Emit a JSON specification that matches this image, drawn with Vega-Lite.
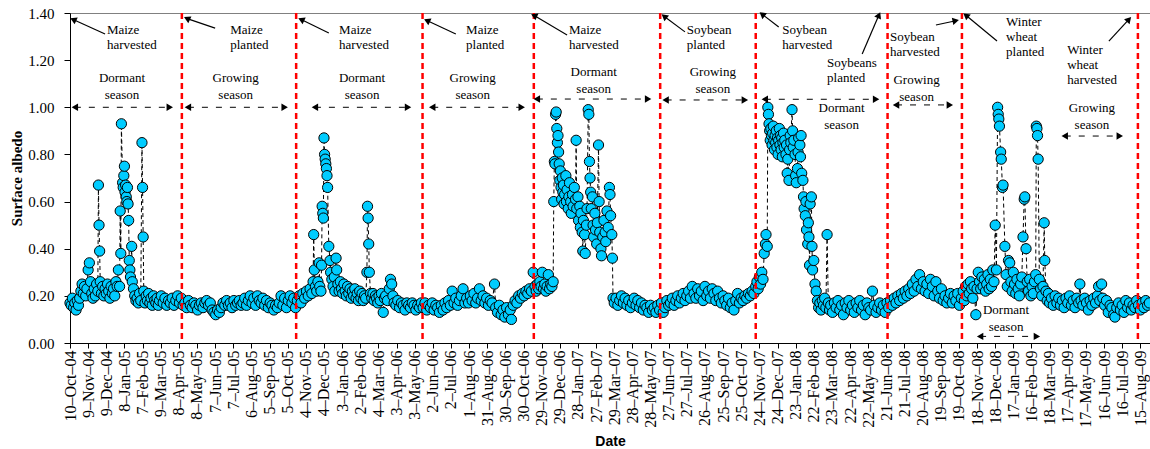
{
"$schema": "https://vega.github.io/schema/vega-lite/v6.json",
"width": 1080, "height": 330,
"autosize": {"type": "none"},
"padding": {"left": 70, "top": 13, "right": 0, "bottom": 106},
"background": "white",
"config": {"view": {"stroke": "#808080", "strokeWidth": 1},
 "axis": {"domainWidth": 1, "tickWidth": 1, "grid": false, "domainColor": "black", "tickColor": "black", "labelColor": "black", "titleColor": "black"},
 "axisX": {"tickCount": 100, "labelOverlap": false, "labelFlush": false, "labelSeparation": 0, "labelAngle": -90, "labelFont": "Liberation Serif", "labelFontSize": 16, "labelPadding": 2, "tickSize": 5, "titleFont": "Liberation Sans", "titleFontSize": 14, "titleFontWeight": "bold", "titlePadding": 7},
 "axisY": {"tickCount": 20, "labelOverlap": false, "labelFont": "Liberation Serif", "labelFontSize": 15, "labelPadding": 10, "tickSize": 6, "titleFont": "Liberation Serif", "titleFontSize": 15, "titleFontWeight": "bold", "titlePadding": 3}},
"datasets": {
"albedo": [
{"d":"2004-10-10","a":0.17},{"d":"2004-10-12","a":0.16},{"d":"2004-10-14","a":0.19},{"d":"2004-10-16","a":0.15},{"d":"2004-10-18","a":0.17},{"d":"2004-10-20","a":0.14},{"d":"2004-10-22","a":0.18},{"d":"2004-10-24","a":0.16},{"d":"2004-10-26","a":0.19},{"d":"2004-10-28","a":0.22},{"d":"2004-10-30","a":0.25},{"d":"2004-11-01","a":0.21},{"d":"2004-11-03","a":0.24},{"d":"2004-11-05","a":0.20},{"d":"2004-11-07","a":0.23},{"d":"2004-11-09","a":0.31},{"d":"2004-11-11","a":0.34},{"d":"2004-11-13","a":0.26},{"d":"2004-11-15","a":0.21},{"d":"2004-11-17","a":0.19},{"d":"2004-11-19","a":0.23},{"d":"2004-11-21","a":0.20},{"d":"2004-11-23","a":0.25},{"d":"2004-11-25","a":0.22},{"d":"2004-11-26","a":0.67},{"d":"2004-11-27","a":0.50},{"d":"2004-11-28","a":0.39},{"d":"2004-11-29","a":0.26},{"d":"2004-12-01","a":0.21},{"d":"2004-12-03","a":0.24},{"d":"2004-12-05","a":0.20},{"d":"2004-12-07","a":0.23},{"d":"2004-12-09","a":0.21},{"d":"2004-12-11","a":0.25},{"d":"2004-12-13","a":0.22},{"d":"2004-12-15","a":0.19},{"d":"2004-12-17","a":0.24},{"d":"2004-12-19","a":0.21},{"d":"2004-12-21","a":0.23},{"d":"2004-12-23","a":0.20},{"d":"2004-12-25","a":0.26},{"d":"2004-12-27","a":0.24},{"d":"2004-12-29","a":0.31},{"d":"2004-12-31","a":0.24},{"d":"2005-01-01","a":0.56},{"d":"2005-01-02","a":0.38},{"d":"2005-01-03","a":0.93},{"d":"2005-01-05","a":0.68},{"d":"2005-01-06","a":0.66},{"d":"2005-01-07","a":0.71},{"d":"2005-01-08","a":0.75},{"d":"2005-01-09","a":0.64},{"d":"2005-01-10","a":0.67},{"d":"2005-01-11","a":0.62},{"d":"2005-01-12","a":0.60},{"d":"2005-01-13","a":0.66},{"d":"2005-01-14","a":0.59},{"d":"2005-01-15","a":0.52},{"d":"2005-01-16","a":0.35},{"d":"2005-01-17","a":0.31},{"d":"2005-01-18","a":0.28},{"d":"2005-01-20","a":0.41},{"d":"2005-01-21","a":0.26},{"d":"2005-01-23","a":0.23},{"d":"2005-01-25","a":0.20},{"d":"2005-01-27","a":0.18},{"d":"2005-01-29","a":0.19},{"d":"2005-01-31","a":0.17},{"d":"2005-02-02","a":0.21},{"d":"2005-02-04","a":0.18},{"d":"2005-02-06","a":0.85},{"d":"2005-02-07","a":0.66},{"d":"2005-02-08","a":0.45},{"d":"2005-02-09","a":0.22},{"d":"2005-02-11","a":0.17},{"d":"2005-02-13","a":0.20},{"d":"2005-02-15","a":0.18},{"d":"2005-02-17","a":0.21},{"d":"2005-02-19","a":0.17},{"d":"2005-02-21","a":0.19},{"d":"2005-02-23","a":0.16},{"d":"2005-02-25","a":0.20},{"d":"2005-02-27","a":0.18},{"d":"2005-03-01","a":0.17},{"d":"2005-03-03","a":0.19},{"d":"2005-03-05","a":0.16},{"d":"2005-03-07","a":0.18},{"d":"2005-03-10","a":0.20},{"d":"2005-03-13","a":0.17},{"d":"2005-03-16","a":0.19},{"d":"2005-03-19","a":0.16},{"d":"2005-03-22","a":0.18},{"d":"2005-03-25","a":0.17},{"d":"2005-03-28","a":0.19},{"d":"2005-03-31","a":0.16},{"d":"2005-04-03","a":0.18},{"d":"2005-04-06","a":0.20},{"d":"2005-04-09","a":0.17},{"d":"2005-04-12","a":0.19},{"d":"2005-04-15","a":0.16},
{"d":"2005-04-18","a":0.17},{"d":"2005-04-21","a":0.15},{"d":"2005-04-24","a":0.18},{"d":"2005-04-27","a":0.16},{"d":"2005-04-30","a":0.15},{"d":"2005-05-03","a":0.17},{"d":"2005-05-06","a":0.16},{"d":"2005-05-09","a":0.14},{"d":"2005-05-12","a":0.16},{"d":"2005-05-15","a":0.17},{"d":"2005-05-18","a":0.15},{"d":"2005-05-21","a":0.17},{"d":"2005-05-24","a":0.18},{"d":"2005-05-27","a":0.16},{"d":"2005-05-30","a":0.17},{"d":"2005-06-02","a":0.14},{"d":"2005-06-05","a":0.13},{"d":"2005-06-08","a":0.12},{"d":"2005-06-11","a":0.14},{"d":"2005-06-14","a":0.13},{"d":"2005-06-17","a":0.15},{"d":"2005-06-20","a":0.17},{"d":"2005-06-23","a":0.16},{"d":"2005-06-26","a":0.18},{"d":"2005-06-29","a":0.16},{"d":"2005-07-02","a":0.17},{"d":"2005-07-05","a":0.15},{"d":"2005-07-08","a":0.18},{"d":"2005-07-11","a":0.16},{"d":"2005-07-14","a":0.17},{"d":"2005-07-17","a":0.18},{"d":"2005-07-20","a":0.16},{"d":"2005-07-23","a":0.17},{"d":"2005-07-26","a":0.19},{"d":"2005-07-29","a":0.16},{"d":"2005-08-01","a":0.18},{"d":"2005-08-04","a":0.20},{"d":"2005-08-07","a":0.17},{"d":"2005-08-10","a":0.19},{"d":"2005-08-13","a":0.16},{"d":"2005-08-16","a":0.20},{"d":"2005-08-19","a":0.18},{"d":"2005-08-22","a":0.17},{"d":"2005-08-25","a":0.19},{"d":"2005-08-28","a":0.16},{"d":"2005-08-31","a":0.18},{"d":"2005-09-03","a":0.15},{"d":"2005-09-06","a":0.17},{"d":"2005-09-09","a":0.16},{"d":"2005-09-12","a":0.14},{"d":"2005-09-15","a":0.16},{"d":"2005-09-18","a":0.15},{"d":"2005-09-21","a":0.17},{"d":"2005-09-24","a":0.20},{"d":"2005-09-27","a":0.16},{"d":"2005-09-30","a":0.19},{"d":"2005-10-03","a":0.15},{"d":"2005-10-06","a":0.18},{"d":"2005-10-09","a":0.20},{"d":"2005-10-12","a":0.17},{"d":"2005-10-15","a":0.19},{"d":"2005-10-18","a":0.15},
{"d":"2005-10-21","a":0.18},{"d":"2005-10-24","a":0.20},{"d":"2005-10-27","a":0.17},{"d":"2005-10-30","a":0.21},{"d":"2005-11-02","a":0.19},{"d":"2005-11-05","a":0.22},{"d":"2005-11-08","a":0.20},{"d":"2005-11-11","a":0.23},{"d":"2005-11-14","a":0.21},{"d":"2005-11-16","a":0.26},{"d":"2005-11-17","a":0.46},{"d":"2005-11-18","a":0.31},{"d":"2005-11-20","a":0.24},{"d":"2005-11-22","a":0.22},{"d":"2005-11-24","a":0.26},{"d":"2005-11-26","a":0.34},{"d":"2005-11-27","a":0.24},{"d":"2005-11-29","a":0.22},{"d":"2005-11-30","a":0.33},{"d":"2005-12-01","a":0.58},{"d":"2005-12-02","a":0.55},{"d":"2005-12-03","a":0.53},{"d":"2005-12-04","a":0.87},{"d":"2005-12-05","a":0.80},{"d":"2005-12-06","a":0.78},{"d":"2005-12-07","a":0.76},{"d":"2005-12-08","a":0.74},{"d":"2005-12-09","a":0.71},{"d":"2005-12-10","a":0.66},{"d":"2005-12-12","a":0.41},{"d":"2005-12-14","a":0.35},{"d":"2005-12-15","a":0.30},{"d":"2005-12-17","a":0.27},{"d":"2005-12-19","a":0.24},{"d":"2005-12-21","a":0.28},{"d":"2005-12-22","a":0.22},{"d":"2005-12-24","a":0.36},{"d":"2005-12-25","a":0.31},{"d":"2005-12-27","a":0.25},{"d":"2005-12-29","a":0.22},{"d":"2005-12-31","a":0.26},{"d":"2006-01-02","a":0.23},{"d":"2006-01-04","a":0.21},{"d":"2006-01-06","a":0.25},{"d":"2006-01-08","a":0.22},{"d":"2006-01-10","a":0.20},{"d":"2006-01-12","a":0.24},{"d":"2006-01-14","a":0.21},{"d":"2006-01-16","a":0.23},{"d":"2006-01-18","a":0.19},{"d":"2006-01-20","a":0.22},{"d":"2006-01-22","a":0.20},{"d":"2006-01-24","a":0.23},{"d":"2006-01-26","a":0.19},{"d":"2006-01-28","a":0.21},{"d":"2006-01-30","a":0.18},{"d":"2006-02-01","a":0.22},{"d":"2006-02-03","a":0.19},{"d":"2006-02-05","a":0.21},{"d":"2006-02-07","a":0.18},{"d":"2006-02-09","a":0.20},{"d":"2006-02-11","a":0.19},{"d":"2006-02-13","a":0.30},{"d":"2006-02-14","a":0.58},{"d":"2006-02-15","a":0.53},{"d":"2006-02-16","a":0.42},{"d":"2006-02-17","a":0.30},{"d":"2006-02-19","a":0.21},{"d":"2006-02-21","a":0.19},{"d":"2006-02-23","a":0.21},{"d":"2006-02-25","a":0.18},{"d":"2006-02-27","a":0.20},{"d":"2006-03-01","a":0.19},{"d":"2006-03-03","a":0.17},{"d":"2006-03-05","a":0.20},{"d":"2006-03-07","a":0.18},{"d":"2006-03-09","a":0.21},{"d":"2006-03-12","a":0.13},{"d":"2006-03-14","a":0.19},{"d":"2006-03-16","a":0.20},{"d":"2006-03-19","a":0.18},{"d":"2006-03-22","a":0.23},{"d":"2006-03-24","a":0.27},{"d":"2006-03-26","a":0.25},{"d":"2006-03-28","a":0.20},{"d":"2006-03-30","a":0.17},{"d":"2006-04-02","a":0.16},{"d":"2006-04-05","a":0.18},{"d":"2006-04-08","a":0.15},{"d":"2006-04-11","a":0.17},{"d":"2006-04-14","a":0.16},{"d":"2006-04-17","a":0.14},{"d":"2006-04-20","a":0.17},{"d":"2006-04-23","a":0.16},{"d":"2006-04-26","a":0.15},{"d":"2006-04-29","a":0.17},{"d":"2006-05-02","a":0.16},{"d":"2006-05-05","a":0.14},{"d":"2006-05-08","a":0.16},{"d":"2006-05-11","a":0.15},{"d":"2006-05-14","a":0.17},
{"d":"2006-05-17","a":0.15},{"d":"2006-05-20","a":0.17},{"d":"2006-05-23","a":0.14},{"d":"2006-05-26","a":0.16},{"d":"2006-05-29","a":0.15},{"d":"2006-06-01","a":0.17},{"d":"2006-06-04","a":0.14},{"d":"2006-06-07","a":0.16},{"d":"2006-06-10","a":0.15},{"d":"2006-06-13","a":0.13},{"d":"2006-06-16","a":0.16},{"d":"2006-06-19","a":0.14},{"d":"2006-06-22","a":0.17},{"d":"2006-06-25","a":0.15},{"d":"2006-06-28","a":0.18},{"d":"2006-07-01","a":0.16},{"d":"2006-07-04","a":0.22},{"d":"2006-07-07","a":0.17},{"d":"2006-07-10","a":0.19},{"d":"2006-07-13","a":0.16},{"d":"2006-07-16","a":0.18},{"d":"2006-07-19","a":0.20},{"d":"2006-07-22","a":0.23},{"d":"2006-07-25","a":0.17},{"d":"2006-07-28","a":0.19},{"d":"2006-07-31","a":0.17},{"d":"2006-08-03","a":0.20},{"d":"2006-08-06","a":0.18},{"d":"2006-08-09","a":0.21},{"d":"2006-08-12","a":0.17},{"d":"2006-08-15","a":0.19},{"d":"2006-08-18","a":0.23},{"d":"2006-08-21","a":0.18},{"d":"2006-08-24","a":0.20},{"d":"2006-08-27","a":0.17},{"d":"2006-08-30","a":0.19},{"d":"2006-09-02","a":0.16},{"d":"2006-09-05","a":0.18},{"d":"2006-09-08","a":0.17},{"d":"2006-09-12","a":0.25},{"d":"2006-09-14","a":0.15},{"d":"2006-09-17","a":0.13},{"d":"2006-09-20","a":0.16},{"d":"2006-09-23","a":0.12},{"d":"2006-09-26","a":0.14},{"d":"2006-09-29","a":0.11},{"d":"2006-10-02","a":0.15},{"d":"2006-10-05","a":0.12},{"d":"2006-10-08","a":0.14},{"d":"2006-10-10","a":0.10},{"d":"2006-10-13","a":0.16},{"d":"2006-10-16","a":0.18},{"d":"2006-10-19","a":0.17},{"d":"2006-10-22","a":0.20},{"d":"2006-10-25","a":0.19},{"d":"2006-10-28","a":0.21},{"d":"2006-10-31","a":0.20},{"d":"2006-11-03","a":0.22},{"d":"2006-11-06","a":0.21},{"d":"2006-11-09","a":0.23},{"d":"2006-11-12","a":0.22},{"d":"2006-11-15","a":0.30},{"d":"2006-11-18","a":0.24},
{"d":"2006-11-20","a":0.22},{"d":"2006-11-22","a":0.25},{"d":"2006-11-24","a":0.23},{"d":"2006-11-26","a":0.26},{"d":"2006-11-28","a":0.24},{"d":"2006-11-30","a":0.30},{"d":"2006-12-02","a":0.23},{"d":"2006-12-04","a":0.25},{"d":"2006-12-06","a":0.22},{"d":"2006-12-08","a":0.24},{"d":"2006-12-10","a":0.29},{"d":"2006-12-12","a":0.23},{"d":"2006-12-14","a":0.25},{"d":"2006-12-16","a":0.24},{"d":"2006-12-18","a":0.26},{"d":"2006-12-19","a":0.60},{"d":"2006-12-20","a":0.77},{"d":"2006-12-21","a":0.76},{"d":"2006-12-22","a":0.97},{"d":"2006-12-23","a":0.98},{"d":"2006-12-24","a":0.91},{"d":"2006-12-25","a":0.85},{"d":"2006-12-26","a":0.88},{"d":"2006-12-27","a":0.81},{"d":"2006-12-28","a":0.76},{"d":"2006-12-29","a":0.69},{"d":"2006-12-30","a":0.73},{"d":"2006-12-31","a":0.66},{"d":"2007-01-01","a":0.61},{"d":"2007-01-02","a":0.70},{"d":"2007-01-03","a":0.64},{"d":"2007-01-04","a":0.67},{"d":"2007-01-05","a":0.59},{"d":"2007-01-06","a":0.63},{"d":"2007-01-08","a":0.71},{"d":"2007-01-09","a":0.60},{"d":"2007-01-10","a":0.65},{"d":"2007-01-12","a":0.57},{"d":"2007-01-13","a":0.62},{"d":"2007-01-14","a":0.68},{"d":"2007-01-16","a":0.60},{"d":"2007-01-17","a":0.55},{"d":"2007-01-19","a":0.63},{"d":"2007-01-20","a":0.58},{"d":"2007-01-22","a":0.66},{"d":"2007-01-24","a":0.61},{"d":"2007-01-25","a":0.86},{"d":"2007-01-26","a":0.57},{"d":"2007-01-28","a":0.62},{"d":"2007-01-29","a":0.52},{"d":"2007-01-31","a":0.58},{"d":"2007-02-01","a":0.49},{"d":"2007-02-02","a":0.55},{"d":"2007-02-04","a":0.47},{"d":"2007-02-05","a":0.39},{"d":"2007-02-06","a":0.52},{"d":"2007-02-08","a":0.46},{"d":"2007-02-09","a":0.38},{"d":"2007-02-11","a":0.50},{"d":"2007-02-12","a":0.57},{"d":"2007-02-14","a":0.99},{"d":"2007-02-15","a":0.97},{"d":"2007-02-16","a":0.77},{"d":"2007-02-17","a":0.70},{"d":"2007-02-18","a":0.64},{"d":"2007-02-19","a":0.57},{"d":"2007-02-21","a":0.62},{"d":"2007-02-22","a":0.50},{"d":"2007-02-23","a":0.45},{"d":"2007-02-25","a":0.55},{"d":"2007-02-26","a":0.48},{"d":"2007-02-28","a":0.42},{"d":"2007-03-01","a":0.51},{"d":"2007-03-03","a":0.84},{"d":"2007-03-04","a":0.60},{"d":"2007-03-05","a":0.47},{"d":"2007-03-07","a":0.40},{"d":"2007-03-08","a":0.37},{"d":"2007-03-10","a":0.45},{"d":"2007-03-12","a":0.52},{"d":"2007-03-14","a":0.47},{"d":"2007-03-15","a":0.43},{"d":"2007-03-17","a":0.56},{"d":"2007-03-19","a":0.49},{"d":"2007-03-21","a":0.66},{"d":"2007-03-22","a":0.63},{"d":"2007-03-23","a":0.54},{"d":"2007-03-25","a":0.46},{"d":"2007-03-26","a":0.36},{"d":"2007-03-27","a":0.19},
{"d":"2007-03-29","a":0.17},{"d":"2007-04-01","a":0.19},{"d":"2007-04-04","a":0.16},{"d":"2007-04-07","a":0.18},{"d":"2007-04-10","a":0.20},{"d":"2007-04-13","a":0.17},{"d":"2007-04-16","a":0.19},{"d":"2007-04-19","a":0.16},{"d":"2007-04-22","a":0.18},{"d":"2007-04-25","a":0.15},{"d":"2007-04-28","a":0.17},{"d":"2007-05-01","a":0.19},{"d":"2007-05-04","a":0.16},{"d":"2007-05-07","a":0.18},{"d":"2007-05-10","a":0.15},{"d":"2007-05-13","a":0.17},{"d":"2007-05-16","a":0.14},{"d":"2007-05-19","a":0.16},{"d":"2007-05-22","a":0.15},{"d":"2007-05-25","a":0.13},{"d":"2007-05-28","a":0.16},{"d":"2007-05-31","a":0.14},{"d":"2007-06-03","a":0.15},{"d":"2007-06-06","a":0.13},{"d":"2007-06-09","a":0.16},{"d":"2007-06-12","a":0.14},{"d":"2007-06-15","a":0.17},{"d":"2007-06-18","a":0.13},{"d":"2007-06-21","a":0.15},{"d":"2007-06-24","a":0.18},{"d":"2007-06-27","a":0.16},{"d":"2007-06-30","a":0.17},{"d":"2007-07-03","a":0.19},{"d":"2007-07-06","a":0.16},{"d":"2007-07-09","a":0.18},{"d":"2007-07-12","a":0.20},{"d":"2007-07-15","a":0.17},{"d":"2007-07-18","a":0.19},{"d":"2007-07-21","a":0.21},{"d":"2007-07-24","a":0.18},{"d":"2007-07-27","a":0.20},{"d":"2007-07-30","a":0.22},{"d":"2007-08-02","a":0.19},{"d":"2007-08-05","a":0.24},{"d":"2007-08-08","a":0.21},{"d":"2007-08-11","a":0.19},{"d":"2007-08-14","a":0.23},{"d":"2007-08-17","a":0.20},{"d":"2007-08-20","a":0.22},{"d":"2007-08-23","a":0.18},{"d":"2007-08-26","a":0.24},{"d":"2007-08-29","a":0.20},{"d":"2007-09-01","a":0.22},{"d":"2007-09-04","a":0.19},{"d":"2007-09-07","a":0.23},{"d":"2007-09-10","a":0.21},{"d":"2007-09-13","a":0.18},{"d":"2007-09-16","a":0.22},{"d":"2007-09-19","a":0.19},{"d":"2007-09-22","a":0.17},{"d":"2007-09-25","a":0.20},{"d":"2007-09-28","a":0.18},{"d":"2007-10-01","a":0.16},{"d":"2007-10-04","a":0.19},{"d":"2007-10-07","a":0.15},{"d":"2007-10-10","a":0.17},{"d":"2007-10-13","a":0.14},{"d":"2007-10-16","a":0.18},{"d":"2007-10-19","a":0.21},{"d":"2007-10-22","a":0.17},{"d":"2007-10-25","a":0.19},{"d":"2007-10-28","a":0.18},{"d":"2007-10-31","a":0.20},{"d":"2007-11-03","a":0.19},{"d":"2007-11-06","a":0.21},{"d":"2007-11-09","a":0.20},{"d":"2007-11-12","a":0.22},{"d":"2007-11-15","a":0.21},{"d":"2007-11-18","a":0.24},
{"d":"2007-11-20","a":0.26},{"d":"2007-11-22","a":0.23},{"d":"2007-11-24","a":0.28},{"d":"2007-11-26","a":0.25},{"d":"2007-11-28","a":0.30},{"d":"2007-11-30","a":0.27},{"d":"2007-12-02","a":0.38},{"d":"2007-12-04","a":0.42},{"d":"2007-12-05","a":0.46},{"d":"2007-12-07","a":0.41},{"d":"2007-12-08","a":1.00},{"d":"2007-12-09","a":0.97},{"d":"2007-12-10","a":0.93},{"d":"2007-12-11","a":0.90},{"d":"2007-12-12","a":0.86},{"d":"2007-12-13","a":0.91},{"d":"2007-12-14","a":0.88},{"d":"2007-12-15","a":0.84},{"d":"2007-12-16","a":0.89},{"d":"2007-12-17","a":0.92},{"d":"2007-12-18","a":0.86},{"d":"2007-12-19","a":0.82},{"d":"2007-12-20","a":0.88},{"d":"2007-12-21","a":0.85},{"d":"2007-12-22","a":0.90},{"d":"2007-12-23","a":0.83},{"d":"2007-12-24","a":0.87},{"d":"2007-12-25","a":0.80},{"d":"2007-12-26","a":0.86},{"d":"2007-12-27","a":0.91},{"d":"2007-12-28","a":0.84},{"d":"2007-12-29","a":0.88},{"d":"2007-12-30","a":0.82},{"d":"2007-12-31","a":0.87},{"d":"2008-01-01","a":0.79},{"d":"2008-01-02","a":0.85},{"d":"2008-01-03","a":0.89},{"d":"2008-01-04","a":0.83},{"d":"2008-01-05","a":0.86},{"d":"2008-01-07","a":0.80},{"d":"2008-01-08","a":0.84},{"d":"2008-01-09","a":0.72},{"d":"2008-01-10","a":0.78},{"d":"2008-01-12","a":0.69},{"d":"2008-01-13","a":0.82},{"d":"2008-01-14","a":0.88},{"d":"2008-01-15","a":0.85},{"d":"2008-01-17","a":0.99},{"d":"2008-01-18","a":0.90},{"d":"2008-01-19","a":0.83},{"d":"2008-01-20","a":0.86},{"d":"2008-01-22","a":0.80},{"d":"2008-01-23","a":0.71},{"d":"2008-01-24","a":0.68},{"d":"2008-01-26","a":0.74},{"d":"2008-01-27","a":0.81},{"d":"2008-01-28","a":0.87},{"d":"2008-01-30","a":0.84},{"d":"2008-01-31","a":0.79},{"d":"2008-02-01","a":0.88},{"d":"2008-02-02","a":0.72},{"d":"2008-02-04","a":0.69},{"d":"2008-02-05","a":0.62},{"d":"2008-02-06","a":0.57},{"d":"2008-02-08","a":0.54},{"d":"2008-02-09","a":0.60},{"d":"2008-02-10","a":0.48},{"d":"2008-02-12","a":0.42},{"d":"2008-02-13","a":0.51},{"d":"2008-02-14","a":0.45},{"d":"2008-02-15","a":0.33},{"d":"2008-02-16","a":0.59},{"d":"2008-02-18","a":0.62},{"d":"2008-02-19","a":0.41},{"d":"2008-02-20","a":0.31},{"d":"2008-02-22","a":0.35},{"d":"2008-02-24","a":0.25},{"d":"2008-02-26","a":0.22},{"d":"2008-02-28","a":0.18},{"d":"2008-03-01","a":0.15},{"d":"2008-03-03","a":0.17},{"d":"2008-03-05","a":0.14},{"d":"2008-03-07","a":0.18},{"d":"2008-03-09","a":0.16},{"d":"2008-03-11","a":0.19},{"d":"2008-03-13","a":0.15},{"d":"2008-03-15","a":0.46},{"d":"2008-03-17","a":0.17},{"d":"2008-03-19","a":0.14},{"d":"2008-03-21","a":0.16},{"d":"2008-03-24","a":0.13},{"d":"2008-03-27","a":0.17},{"d":"2008-03-30","a":0.15},{"d":"2008-04-02","a":0.18},{"d":"2008-04-05","a":0.14},{"d":"2008-04-08","a":0.16},{"d":"2008-04-11","a":0.12},{"d":"2008-04-14","a":0.17},{"d":"2008-04-17","a":0.15},{"d":"2008-04-20","a":0.18},{"d":"2008-04-23","a":0.14},{"d":"2008-04-26","a":0.16},{"d":"2008-04-29","a":0.13},{"d":"2008-05-02","a":0.17},{"d":"2008-05-05","a":0.15},{"d":"2008-05-08","a":0.18},{"d":"2008-05-11","a":0.14},{"d":"2008-05-14","a":0.16},{"d":"2008-05-17","a":0.12},{"d":"2008-05-20","a":0.17},{"d":"2008-05-23","a":0.15},{"d":"2008-05-26","a":0.14},{"d":"2008-05-29","a":0.22},{"d":"2008-06-01","a":0.16},{"d":"2008-06-04","a":0.13},{"d":"2008-06-07","a":0.15},{"d":"2008-06-10","a":0.17},{"d":"2008-06-13","a":0.14},{"d":"2008-06-16","a":0.16},{"d":"2008-06-19","a":0.13},{"d":"2008-06-22","a":0.17},
{"d":"2008-06-25","a":0.15},{"d":"2008-06-28","a":0.18},{"d":"2008-07-01","a":0.16},{"d":"2008-07-04","a":0.19},{"d":"2008-07-07","a":0.17},{"d":"2008-07-10","a":0.20},{"d":"2008-07-13","a":0.18},{"d":"2008-07-16","a":0.21},{"d":"2008-07-19","a":0.19},{"d":"2008-07-22","a":0.22},{"d":"2008-07-25","a":0.20},{"d":"2008-07-28","a":0.23},{"d":"2008-07-31","a":0.21},{"d":"2008-08-03","a":0.25},{"d":"2008-08-06","a":0.22},{"d":"2008-08-09","a":0.27},{"d":"2008-08-12","a":0.24},{"d":"2008-08-15","a":0.29},{"d":"2008-08-18","a":0.23},{"d":"2008-08-21","a":0.26},{"d":"2008-08-24","a":0.22},{"d":"2008-08-27","a":0.25},{"d":"2008-08-30","a":0.21},{"d":"2008-09-02","a":0.27},{"d":"2008-09-05","a":0.24},{"d":"2008-09-08","a":0.20},{"d":"2008-09-11","a":0.26},{"d":"2008-09-14","a":0.22},{"d":"2008-09-17","a":0.19},{"d":"2008-09-20","a":0.23},{"d":"2008-09-23","a":0.18},{"d":"2008-09-26","a":0.20},{"d":"2008-09-29","a":0.17},{"d":"2008-10-02","a":0.19},{"d":"2008-10-05","a":0.21},{"d":"2008-10-08","a":0.17},{"d":"2008-10-11","a":0.20},{"d":"2008-10-14","a":0.18},{"d":"2008-10-17","a":0.21},{"d":"2008-10-20","a":0.16},{"d":"2008-10-23","a":0.19},
{"d":"2008-10-26","a":0.22},{"d":"2008-10-28","a":0.18},{"d":"2008-10-30","a":0.24},{"d":"2008-11-01","a":0.20},{"d":"2008-11-03","a":0.25},{"d":"2008-11-05","a":0.21},{"d":"2008-11-07","a":0.26},{"d":"2008-11-09","a":0.23},{"d":"2008-11-11","a":0.19},{"d":"2008-11-13","a":0.24},{"d":"2008-11-16","a":0.12},{"d":"2008-11-18","a":0.23},{"d":"2008-11-20","a":0.30},{"d":"2008-11-22","a":0.26},{"d":"2008-11-24","a":0.23},{"d":"2008-11-26","a":0.28},{"d":"2008-11-28","a":0.24},{"d":"2008-11-30","a":0.27},{"d":"2008-12-02","a":0.22},{"d":"2008-12-04","a":0.25},{"d":"2008-12-06","a":0.29},{"d":"2008-12-08","a":0.23},{"d":"2008-12-10","a":0.27},{"d":"2008-12-12","a":0.24},{"d":"2008-12-14","a":0.31},{"d":"2008-12-16","a":0.26},{"d":"2008-12-18","a":0.50},{"d":"2008-12-20","a":0.31},{"d":"2008-12-22","a":1.00},{"d":"2008-12-23","a":0.97},{"d":"2008-12-24","a":0.95},{"d":"2008-12-25","a":0.92},{"d":"2008-12-27","a":0.81},{"d":"2008-12-28","a":0.78},{"d":"2008-12-30","a":0.66},{"d":"2008-12-31","a":0.67},{"d":"2009-01-03","a":0.41},{"d":"2009-01-05","a":0.29},{"d":"2009-01-07","a":0.24},{"d":"2009-01-09","a":0.35},{"d":"2009-01-11","a":0.34},{"d":"2009-01-13","a":0.26},{"d":"2009-01-15","a":0.22},{"d":"2009-01-17","a":0.30},{"d":"2009-01-19","a":0.25},{"d":"2009-01-21","a":0.21},{"d":"2009-01-23","a":0.27},{"d":"2009-01-25","a":0.23},{"d":"2009-01-27","a":0.20},{"d":"2009-01-29","a":0.25},{"d":"2009-01-31","a":0.28},{"d":"2009-02-02","a":0.45},{"d":"2009-02-04","a":0.61},{"d":"2009-02-05","a":0.62},{"d":"2009-02-07","a":0.40},{"d":"2009-02-09","a":0.26},{"d":"2009-02-11","a":0.22},{"d":"2009-02-13","a":0.27},{"d":"2009-02-15","a":0.20},{"d":"2009-02-17","a":0.24},{"d":"2009-02-19","a":0.21},{"d":"2009-02-21","a":0.26},{"d":"2009-02-23","a":0.29},{"d":"2009-02-24","a":0.92},{"d":"2009-02-25","a":0.91},{"d":"2009-02-26","a":0.88},{"d":"2009-02-27","a":0.78},{"d":"2009-03-01","a":0.27},{"d":"2009-03-03","a":0.23},{"d":"2009-03-05","a":0.20},{"d":"2009-03-07","a":0.24},{"d":"2009-03-09","a":0.51},{"d":"2009-03-10","a":0.35},{"d":"2009-03-12","a":0.22},{"d":"2009-03-14","a":0.18},{"d":"2009-03-16","a":0.21},{"d":"2009-03-18","a":0.17},{"d":"2009-03-21","a":0.19},{"d":"2009-03-24","a":0.16},{"d":"2009-03-27","a":0.20},{"d":"2009-03-30","a":0.17},{"d":"2009-04-02","a":0.19},{"d":"2009-04-05","a":0.16},{"d":"2009-04-08","a":0.18},{"d":"2009-04-11","a":0.15},{"d":"2009-04-14","a":0.19},{"d":"2009-04-17","a":0.17},{"d":"2009-04-20","a":0.20},{"d":"2009-04-23","a":0.16},{"d":"2009-04-26","a":0.18},{"d":"2009-04-29","a":0.15},{"d":"2009-05-02","a":0.19},{"d":"2009-05-05","a":0.17},{"d":"2009-05-07","a":0.25},{"d":"2009-05-09","a":0.18},{"d":"2009-05-12","a":0.16},{"d":"2009-05-15","a":0.19},{"d":"2009-05-18","a":0.17},{"d":"2009-05-21","a":0.14},{"d":"2009-05-24","a":0.18},{"d":"2009-05-27","a":0.16},{"d":"2009-05-30","a":0.19},{"d":"2009-06-02","a":0.17},{"d":"2009-06-05","a":0.20},{"d":"2009-06-07","a":0.24},{"d":"2009-06-09","a":0.18},{"d":"2009-06-12","a":0.25},{"d":"2009-06-14","a":0.19},{"d":"2009-06-17","a":0.16},{"d":"2009-06-20","a":0.18},{"d":"2009-06-23","a":0.13},{"d":"2009-06-26","a":0.16},{"d":"2009-06-29","a":0.15},{"d":"2009-07-02","a":0.12},{"d":"2009-07-04","a":0.11},{"d":"2009-07-07","a":0.15},{"d":"2009-07-10","a":0.17},{"d":"2009-07-13","a":0.14},{"d":"2009-07-16","a":0.16},{"d":"2009-07-19","a":0.13},{"d":"2009-07-22","a":0.18},{"d":"2009-07-25","a":0.15},{"d":"2009-07-28","a":0.17},{"d":"2009-07-31","a":0.14},{"d":"2009-08-03","a":0.16},{"d":"2009-08-06","a":0.15},{"d":"2009-08-09","a":0.18},{"d":"2009-08-12","a":0.16},{"d":"2009-08-15","a":0.14},{"d":"2009-08-18","a":0.17},{"d":"2009-08-21","a":0.15},{"d":"2009-08-24","a":0.18},{"d":"2009-08-27","a":0.16},{"d":"2009-08-30","a":0.17}
],
"events": [{"d":"2005-04-13"},{"d":"2005-10-19"},{"d":"2006-05-16"},{"d":"2006-11-16"},{"d":"2007-06-13"},{"d":"2007-11-18"},{"d":"2008-06-23"},{"d":"2008-10-24"},{"d":"2009-08-11"}],
"arrows": [
{"ev":"a1","t1":"2004-12-07","v1":1.311,"t2":"2004-10-17","v2":1.37},
{"ev":"a2","t1":"2005-06-07","v1":1.336,"t2":"2005-04-23","v2":1.375},
{"ev":"a3","t1":"2005-12-12","v1":1.315,"t2":"2005-10-29","v2":1.37},
{"ev":"a4","t1":"2006-07-10","v1":1.311,"t2":"2006-05-25","v2":1.366},
{"ev":"a5","t1":"2007-01-10","v1":1.307,"t2":"2006-11-18","v2":1.387},
{"ev":"b1","t1":"2007-07-24","v1":1.32,"t2":"2007-06-21","v2":1.383},
{"ev":"b2","t1":"2007-12-26","v1":1.341,"t2":"2007-11-30","v2":1.392},
{"ev":"b3","t1":"2008-12-21","v1":1.281,"t2":"2008-11-01","v2":1.387},
{"ev":"c1","t1":"2008-05-12","v1":1.226,"t2":"2008-06-08","v2":1.387},
{"ev":"c2","t1":"2008-09-11","v1":1.349,"t2":"2008-10-12","v2":1.366},
{"ev":"c3","t1":"2009-06-24","v1":1.281,"t2":"2009-07-26","v2":1.37}
],
"spans": [
{"t1":"2004-10-18","t2":"2005-03-24","v":1.0},
{"t1":"2005-04-23","t2":"2005-09-30","v":1.0},
{"t1":"2005-11-19","t2":"2006-04-22","v":1.0},
{"t1":"2006-06-01","t2":"2006-10-27","v":1.0},
{"t1":"2006-11-21","t2":"2007-05-24","v":1.035},
{"t1":"2007-06-22","t2":"2007-10-31","v":1.031},
{"t1":"2007-12-03","t2":"2008-06-04","v":1.034},
{"t1":"2008-07-07","t2":"2008-10-04","v":1.01},
{"t1":"2009-04-12","t2":"2009-07-12","v":0.878},
{"t1":"2008-11-23","t2":"2009-02-25","v":0.028}
],
"seasons": [
{"t":"2005-01-04","v":1.109,"s":"Dormant\nseason"},
{"t":"2005-07-11","v":1.109,"s":"Growing\nseason"},
{"t":"2006-02-05","v":1.109,"s":"Dormant\nseason"},
{"t":"2006-08-07","v":1.109,"s":"Growing\nseason"},
{"t":"2007-02-23","v":1.131,"s":"Dormant\nseason"},
{"t":"2007-09-08","v":1.131,"s":"Growing\nseason"},
{"t":"2008-04-08","v":0.982,"s":"Dormant\nseason"},
{"t":"2008-08-10","v":1.097,"s":"Growing\nseason"},
{"t":"2009-05-27","v":0.982,"s":"Growing\nseason"},
{"t":"2009-01-05","v":0.121,"s":"Dormant\nseason"}
],
"labels": [
{"t":"2004-12-10","v":1.313,"s":"Maize\nharvested"},
{"t":"2005-07-02","v":1.313,"s":"Maize\nplanted"},
{"t":"2005-12-29","v":1.313,"s":"Maize\nharvested"},
{"t":"2006-07-27","v":1.313,"s":"Maize\nplanted"},
{"t":"2007-01-13","v":1.313,"s":"Maize\nharvested"},
{"t":"2007-07-27","v":1.313,"s":"Soybean\nplanted"},
{"t":"2008-01-01","v":1.313,"s":"Soybean\nharvested"},
{"t":"2008-03-15","v":1.169,"s":"Soybeans\nplanted"},
{"t":"2008-06-27","v":1.283,"s":"Soybean\nharvested"},
{"t":"2009-01-05","v":1.343,"s":"Winter\nwheat\nplanted"},
{"t":"2009-04-16","v":1.224,"s":"Winter\nwheat\nharvested"}
]
},
"layer": [
{"data": {"name": "albedo"},
 "mark": {"type": "line", "color": "black", "strokeWidth": 1, "strokeDash": [4, 3]},
 "encoding": {
  "x": {"field": "d", "type": "temporal",
   "scale": {"type": "utc", "domain": [{"year": 2004, "month": 10, "date": 10, "utc": true}, {"year": 2009, "month": 8, "date": 31, "utc": true}]},
   "axis": {"values": [
{"year":2004,"month":10,"date":10,"utc":true},{"year":2004,"month":11,"date":9,"utc":true},{"year":2004,"month":12,"date":9,"utc":true},{"year":2005,"month":1,"date":8,"utc":true},{"year":2005,"month":2,"date":7,"utc":true},{"year":2005,"month":3,"date":9,"utc":true},{"year":2005,"month":4,"date":8,"utc":true},{"year":2005,"month":5,"date":8,"utc":true},{"year":2005,"month":6,"date":7,"utc":true},{"year":2005,"month":7,"date":7,"utc":true},{"year":2005,"month":8,"date":6,"utc":true},{"year":2005,"month":9,"date":5,"utc":true},{"year":2005,"month":10,"date":5,"utc":true},{"year":2005,"month":11,"date":4,"utc":true},{"year":2005,"month":12,"date":4,"utc":true},{"year":2006,"month":1,"date":3,"utc":true},{"year":2006,"month":2,"date":2,"utc":true},{"year":2006,"month":3,"date":4,"utc":true},{"year":2006,"month":4,"date":3,"utc":true},{"year":2006,"month":5,"date":3,"utc":true},{"year":2006,"month":6,"date":2,"utc":true},{"year":2006,"month":7,"date":2,"utc":true},{"year":2006,"month":8,"date":1,"utc":true},{"year":2006,"month":8,"date":31,"utc":true},{"year":2006,"month":9,"date":30,"utc":true},{"year":2006,"month":10,"date":30,"utc":true},{"year":2006,"month":11,"date":29,"utc":true},{"year":2006,"month":12,"date":29,"utc":true},{"year":2007,"month":1,"date":28,"utc":true},{"year":2007,"month":2,"date":27,"utc":true},{"year":2007,"month":3,"date":29,"utc":true},{"year":2007,"month":4,"date":28,"utc":true},{"year":2007,"month":5,"date":28,"utc":true},{"year":2007,"month":6,"date":27,"utc":true},{"year":2007,"month":7,"date":27,"utc":true},{"year":2007,"month":8,"date":26,"utc":true},{"year":2007,"month":9,"date":25,"utc":true},{"year":2007,"month":10,"date":25,"utc":true},{"year":2007,"month":11,"date":24,"utc":true},{"year":2007,"month":12,"date":24,"utc":true},{"year":2008,"month":1,"date":23,"utc":true},{"year":2008,"month":2,"date":22,"utc":true},{"year":2008,"month":3,"date":23,"utc":true},{"year":2008,"month":4,"date":22,"utc":true},{"year":2008,"month":5,"date":22,"utc":true},{"year":2008,"month":6,"date":21,"utc":true},{"year":2008,"month":7,"date":21,"utc":true},{"year":2008,"month":8,"date":20,"utc":true},{"year":2008,"month":9,"date":19,"utc":true},{"year":2008,"month":10,"date":19,"utc":true},{"year":2008,"month":11,"date":18,"utc":true},{"year":2008,"month":12,"date":18,"utc":true},{"year":2009,"month":1,"date":17,"utc":true},{"year":2009,"month":2,"date":16,"utc":true},{"year":2009,"month":3,"date":18,"utc":true},{"year":2009,"month":4,"date":17,"utc":true},{"year":2009,"month":5,"date":17,"utc":true},{"year":2009,"month":6,"date":16,"utc":true},{"year":2009,"month":7,"date":16,"utc":true},{"year":2009,"month":8,"date":15,"utc":true}],
    "tickCount": 100,
    "labelExpr": "utcFormat(datum.value, '%-d–%b–%y')", "labelOverlap": false,
    "title": "Date"}},
  "y": {"field": "a", "type": "quantitative",
   "scale": {"domain": [0, 1.4], "nice": false},
   "axis": {"values": [0, 0.2, 0.4, 0.6, 0.8, 1.0, 1.2, 1.4], "tickCount": 20, "format": ".2f", "title": "Surface albedo"}}
 }},
{"data": {"name": "albedo"},
 "mark": {"type": "point", "shape": "circle", "filled": true, "fill": "#00CCFF", "stroke": "black", "strokeWidth": 1, "size": 105, "opacity": 1},
 "encoding": {
  "x": {"field": "d", "type": "temporal", "scale": {"type": "utc", "domain": [{"year": 2004, "month": 10, "date": 10, "utc": true}, {"year": 2009, "month": 8, "date": 31, "utc": true}]}},
  "y": {"field": "a", "type": "quantitative", "scale": {"domain": [0, 1.4], "nice": false}}}},
{"data": {"name": "events"},
 "mark": {"type": "rule", "color": "#FF0000", "strokeWidth": 2.5, "strokeDash": [6, 4]},
 "encoding": {
  "x": {"field": "d", "type": "temporal", "scale": {"type": "utc", "domain": [{"year": 2004, "month": 10, "date": 10, "utc": true}, {"year": 2009, "month": 8, "date": 31, "utc": true}]}}}},
{"data": {"name": "spans"},
 "mark": {"type": "rule", "color": "black", "strokeWidth": 1, "strokeDash": [6, 8]},
 "encoding": {
  "x": {"field": "t1", "type": "temporal", "scale": {"type": "utc", "domain": [{"year": 2004, "month": 10, "date": 10, "utc": true}, {"year": 2009, "month": 8, "date": 31, "utc": true}]}},
  "x2": {"field": "t2"},
  "y": {"field": "v", "type": "quantitative", "scale": {"domain": [0, 1.4], "nice": false}}}},
{"data": {"name": "spans"},
 "mark": {"type": "point", "shape": "triangle-left", "filled": true, "color": "black", "size": 55, "opacity": 1},
 "encoding": {
  "x": {"field": "t1", "type": "temporal", "scale": {"type": "utc", "domain": [{"year": 2004, "month": 10, "date": 10, "utc": true}, {"year": 2009, "month": 8, "date": 31, "utc": true}]}},
  "y": {"field": "v", "type": "quantitative", "scale": {"domain": [0, 1.4], "nice": false}}}},
{"data": {"name": "spans"},
 "mark": {"type": "point", "shape": "triangle-right", "filled": true, "color": "black", "size": 55, "opacity": 1},
 "encoding": {
  "x": {"field": "t2", "type": "temporal", "scale": {"type": "utc", "domain": [{"year": 2004, "month": 10, "date": 10, "utc": true}, {"year": 2009, "month": 8, "date": 31, "utc": true}]}},
  "y": {"field": "v", "type": "quantitative", "scale": {"domain": [0, 1.4], "nice": false}}}},
{"data": {"name": "arrows"},
 "mark": {"type": "rule", "color": "black", "strokeWidth": 1.2},
 "encoding": {
  "x": {"field": "t1", "type": "temporal", "scale": {"type": "utc", "domain": [{"year": 2004, "month": 10, "date": 10, "utc": true}, {"year": 2009, "month": 8, "date": 31, "utc": true}]}},
  "x2": {"field": "t2"},
  "y": {"field": "v1", "type": "quantitative", "scale": {"domain": [0, 1.4], "nice": false}},
  "y2": {"field": "v2"}}},
{"data": {"name": "arrows"},
 "transform": [{"filter": "indexof(['a1','a2','a3','a4','a5'], datum.ev) >= 0"}],
 "mark": {"type": "point", "shape": "triangle", "filled": true, "color": "black", "size": 55, "opacity": 1, "angle": -65},
 "encoding": {
  "x": {"field": "t2", "type": "temporal", "scale": {"type": "utc", "domain": [{"year": 2004, "month": 10, "date": 10, "utc": true}, {"year": 2009, "month": 8, "date": 31, "utc": true}]}},
  "y": {"field": "v2", "type": "quantitative", "scale": {"domain": [0, 1.4], "nice": false}}}},
{"data": {"name": "arrows"},
 "transform": [{"filter": "indexof(['b1','b2','b3'], datum.ev) >= 0"}],
 "mark": {"type": "point", "shape": "triangle", "filled": true, "color": "black", "size": 55, "opacity": 1, "angle": -52},
 "encoding": {
  "x": {"field": "t2", "type": "temporal", "scale": {"type": "utc", "domain": [{"year": 2004, "month": 10, "date": 10, "utc": true}, {"year": 2009, "month": 8, "date": 31, "utc": true}]}},
  "y": {"field": "v2", "type": "quantitative", "scale": {"domain": [0, 1.4], "nice": false}}}},
{"data": {"name": "arrows"},
 "transform": [{"filter": "datum.ev == 'c1'"}],
 "mark": {"type": "point", "shape": "triangle", "filled": true, "color": "black", "size": 55, "opacity": 1, "angle": 24},
 "encoding": {
  "x": {"field": "t2", "type": "temporal", "scale": {"type": "utc", "domain": [{"year": 2004, "month": 10, "date": 10, "utc": true}, {"year": 2009, "month": 8, "date": 31, "utc": true}]}},
  "y": {"field": "v2", "type": "quantitative", "scale": {"domain": [0, 1.4], "nice": false}}}},
{"data": {"name": "arrows"},
 "transform": [{"filter": "datum.ev == 'c2'"}],
 "mark": {"type": "point", "shape": "triangle", "filled": true, "color": "black", "size": 55, "opacity": 1, "angle": 78},
 "encoding": {
  "x": {"field": "t2", "type": "temporal", "scale": {"type": "utc", "domain": [{"year": 2004, "month": 10, "date": 10, "utc": true}, {"year": 2009, "month": 8, "date": 31, "utc": true}]}},
  "y": {"field": "v2", "type": "quantitative", "scale": {"domain": [0, 1.4], "nice": false}}}},
{"data": {"name": "arrows"},
 "transform": [{"filter": "datum.ev == 'c3'"}],
 "mark": {"type": "point", "shape": "triangle", "filled": true, "color": "black", "size": 55, "opacity": 1, "angle": 42},
 "encoding": {
  "x": {"field": "t2", "type": "temporal", "scale": {"type": "utc", "domain": [{"year": 2004, "month": 10, "date": 10, "utc": true}, {"year": 2009, "month": 8, "date": 31, "utc": true}]}},
  "y": {"field": "v2", "type": "quantitative", "scale": {"domain": [0, 1.4], "nice": false}}}},
{"data": {"name": "seasons"},
 "mark": {"type": "text", "align": "center", "baseline": "alphabetic", "font": "Liberation Serif", "fontSize": 13, "lineHeight": 17, "lineBreak": "\n", "color": "black"},
 "encoding": {
  "x": {"field": "t", "type": "temporal", "scale": {"type": "utc", "domain": [{"year": 2004, "month": 10, "date": 10, "utc": true}, {"year": 2009, "month": 8, "date": 31, "utc": true}]}},
  "y": {"field": "v", "type": "quantitative", "scale": {"domain": [0, 1.4], "nice": false}},
  "text": {"field": "s", "type": "nominal"}}},
{"data": {"name": "labels"},
 "mark": {"type": "text", "align": "left", "baseline": "alphabetic", "font": "Liberation Serif", "fontSize": 13, "lineHeight": 15, "lineBreak": "\n", "color": "black"},
 "encoding": {
  "x": {"field": "t", "type": "temporal", "scale": {"type": "utc", "domain": [{"year": 2004, "month": 10, "date": 10, "utc": true}, {"year": 2009, "month": 8, "date": 31, "utc": true}]}},
  "y": {"field": "v", "type": "quantitative", "scale": {"domain": [0, 1.4], "nice": false}},
  "text": {"field": "s", "type": "nominal"}}}
]
}
